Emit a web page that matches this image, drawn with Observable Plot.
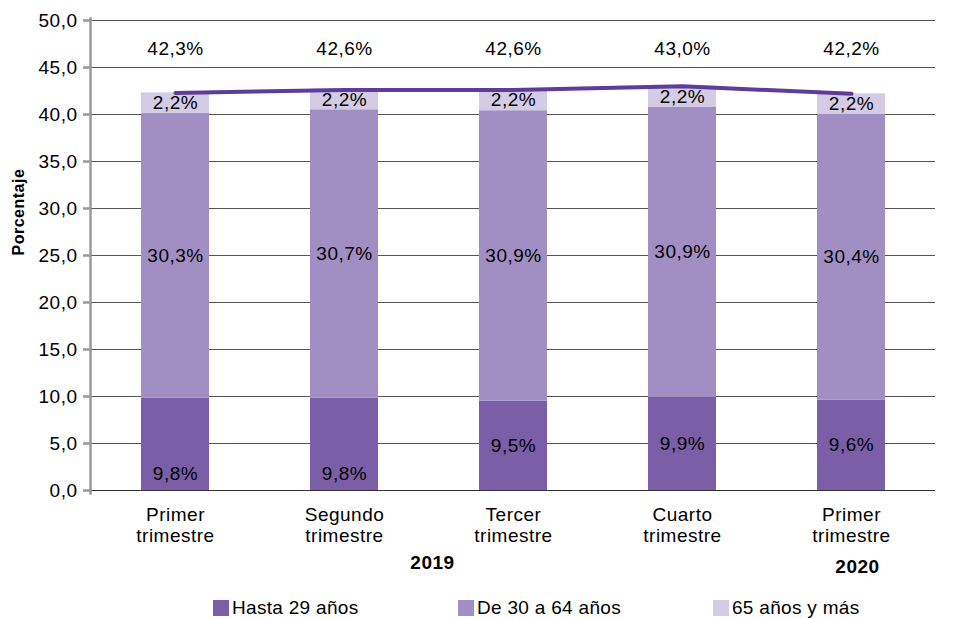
<!DOCTYPE html>
<html><head><meta charset="utf-8">
<script src="https://cdn.jsdelivr.net/npm/d3@7"></script>
<script src="https://cdn.jsdelivr.net/npm/@observablehq/plot@0.6"></script>
<style>
body{margin:0;background:#fff;font-family:"Liberation Sans",Arial,sans-serif;}
#wrap{position:relative;width:977px;height:619px;}
#wrap svg text{letter-spacing:0.5px;}
.leg{position:absolute;top:597px;font-size:19px;color:#000;display:flex;align-items:center;line-height:22px;letter-spacing:0.3px;}
.sw{width:16px;height:16px;margin-right:3px;display:inline-block;}
</style>
</head><body><div id="wrap"></div>
<script>
const categories = ["T1-2019","T2-2019","T3-2019","T4-2019","T1-2020"];
const tickLabels = ["Primer\ntrimestre","Segundo\ntrimestre","Tercer\ntrimestre","Cuarto\ntrimestre","Primer\ntrimestre"];
const groups = ["Hasta 29 años","De 30 a 64 años","65 años y más"];
const colors = ["#7a5ea8","#a18fc4","#d4cce5"];
const hasta29 = [9.8,9.8,9.5,9.9,9.6];
const de30a64 = [30.3,30.7,30.9,30.9,30.4];
const mas65 = [2.2,2.2,2.2,2.2,2.2];
const totals = [42.3,42.6,42.6,43.0,42.2];
const baseLabelMode = ["base","base","center","center","center"];
const yTicks = [0,5,10,15,20,25,30,35,40,45,50];

const series = [hasta29,de30a64,mas65];
const rows = [];
categories.forEach((c,i)=>{
  let acc = 0;
  series.forEach((s,g)=>{
    rows.push({cat:c, group:groups[g], y1:acc, y2:acc+s[i], v:s[i], gi:g, mode: baseLabelMode[i]});
    acc += s[i];
  });
});
const labelRows = rows.map(r=>({...r, ly: (r.gi===0 && r.mode==="base") ? r.y1 : (r.y1+r.y2)/2, base: r.gi===0 && r.mode==="base"}));
const totalRows = categories.map((c,i)=>({cat:c, total:totals[i]}));
const fmt = v => v.toFixed(1).replace(".",",") + "%";
const tickMap = new Map(categories.map((c,i)=>[c,tickLabels[i]]));

const chart = Plot.plot({
  width: 977, height: 595,
  marginLeft: 90, marginRight: 42, marginTop: 20, marginBottom: 105,
  style:{fontFamily:'"Liberation Sans",Arial,sans-serif', fontSize:"19px", color:"#000", background:"#fff"},
  x:{domain:categories, paddingInner:0.6, paddingOuter:0.3, label:null},
  y:{domain:[0,50], label:null},
  color:{domain:groups, range:colors},
  marks:[
    Plot.gridY(yTicks, {stroke:"#555", strokeOpacity:1, strokeWidth:1}),
    Plot.barY(rows, {x:"cat", y1:"y1", y2:"y2", fill:"group"}),
    Plot.ruleY([0], {stroke:"#333", strokeWidth:1.2}),
    Plot.frame({anchor:"left", stroke:"#999", strokeWidth:2.5, insetTop:-2, insetBottom:-3}),
    Plot.axisY({ticks:yTicks, tickFormat:d=>d.toFixed(1).replace(".",","), tickSize:7, tickPadding:6, stroke:"#999", strokeWidth:2.5, fill:"#000", fontSize:19, label:null}),
    Plot.axisX({tickSize:0, tickPadding:16, tickFormat:d=>tickMap.get(d), lineHeight:1.1, fontSize:19, fill:"#000", label:null}),
    Plot.line(totalRows, {x:"cat", y:"total", stroke:"#5e3c9c", strokeWidth:4, strokeLinecap:"round"}),
    Plot.text(labelRows.filter(r=>!r.base), {x:"cat", y:"ly", text:d=>fmt(d.v), fill:"#000", fontSize:19}),
    Plot.text(labelRows.filter(r=>r.base), {x:"cat", y:"ly", text:d=>fmt(d.v), fill:"#000", fontSize:19, dy:-17}),
    Plot.text(totalRows, {x:"cat", text:d=>fmt(d.total), frameAnchor:"top", dy:21, fill:"#000", fontSize:19}),
    Plot.text([{cat:categories[1], t:"2019"}], {x:"cat", text:"t", frameAnchor:"bottom", dx:88, dy:78, fontWeight:"bold", fontSize:19, fill:"#000"}),
    Plot.text([{cat:categories[4], t:"2020"}], {x:"cat", text:"t", frameAnchor:"bottom", dx:6, dy:82, fontWeight:"bold", fontSize:19, fill:"#000"}),
    Plot.text(["Porcentaje"], {text:d=>d, frameAnchor:"left", dx:-72, rotate:-90, fontWeight:"bold", fontSize:16, fill:"#000"})
  ]
});
const wrap = document.getElementById("wrap");
wrap.appendChild(chart);
const legLeft = [213,458,713];
groups.forEach((g,i)=>{
  const d = document.createElement("div");
  d.className = "leg";
  d.style.left = legLeft[i] + "px";
  d.innerHTML = `<span class="sw" style="background:${colors[i]}"></span>${g}`;
  wrap.appendChild(d);
});
</script>
</body></html>
